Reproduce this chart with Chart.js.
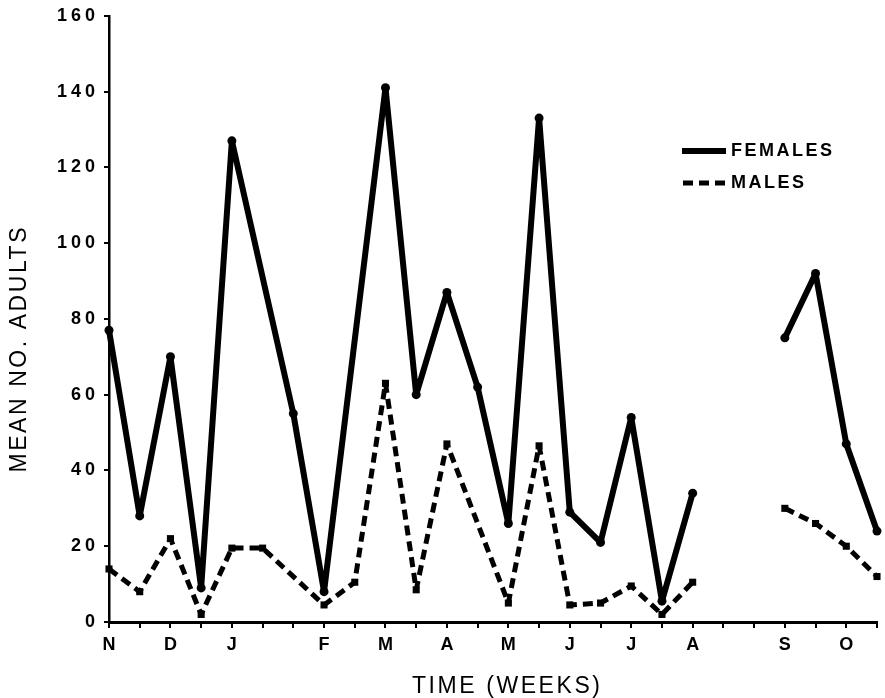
<!DOCTYPE html>
<html>
<head>
<meta charset="utf-8">
<title>Mean no. adults</title>
<script src="https://cdn.jsdelivr.net/npm/chart.js@4.4.0/dist/chart.umd.min.js"></script>
<style>
  html, body { margin: 0; padding: 0; background: #fff; }
  canvas { display: block; }
</style>
</head>
<body>
<canvas id="adultsChart" width="885" height="698"></canvas>
<script>
// Biweekly samples, November through October
const weekLabels = ['N', '', 'D', '', 'J', '', '', 'F', '', 'M', '', 'A', '', 'M', '', 'J', '', 'J', '', 'A', '', '', 'S', '', 'O', ''];
const femaleValues = [77, 28, 70, 9, 127, null, 55, 8, null, 141, 60, 87, 62, 26, 133, 29, 21, 54, 5.5, 34, null, null, 75, 92, 47, 24];
const maleValues = [14, 8, 22, 2, 19.5, 19.5, null, 4.5, 10.5, 63, 8.5, 47, null, 5, 46.5, 4.5, 5, 9.5, 2, 10.5, null, null, 30, 26, 20, 12];
const yTickStep = 20;
const yMax = 160;
const maxBridge = 2; // single missing samples are bridged, the Aug-Sep break is not

const yTitle = 'MEAN NO. ADULTS';
const xTitle = 'TIME (WEEKS)';
const fontFamily = '"Liberation Sans", Arial, sans-serif';

// hide the segment that crosses the long break
const gapSegment = {
    borderColor: ctx => {
        const data = ctx.chart.data.datasets[ctx.datasetIndex].data;
        let j = ctx.p1DataIndex - 1;
        while (j >= 0 && data[j] == null) j--;
        return ctx.p1DataIndex - j > maxBridge ? 'rgba(0,0,0,0)' : undefined;
    }
};

// draw text stretched to a given width (old figure uses wide letter spacing)
function spacedText(ctx, text, cx, cy, width) {
    ctx.letterSpacing = '0px';
    const w = ctx.measureText(text).width;
    ctx.letterSpacing = ((width - w) / (text.length - 1)) + 'px';
    ctx.textAlign = 'left';
    ctx.fillText(text, cx - width / 2, cy);
}

const figureExtras = {
    id: 'figureExtras',
    beforeDraw(chart) {
        chart.ctx.letterSpacing = '4px';
    },
    afterDraw(chart) {
        const ctx = chart.ctx;
        const sets = chart.data.datasets;
        ctx.save();
        ctx.fillStyle = '#000';
        ctx.strokeStyle = '#000';
        ctx.lineCap = 'butt';

        // legend
        ctx.lineWidth = 6;
        ctx.setLineDash([]);
        ctx.beginPath(); ctx.moveTo(682, 151); ctx.lineTo(726, 151); ctx.stroke();
        ctx.lineWidth = 5;
        ctx.setLineDash([10, 6]);
        ctx.beginPath(); ctx.moveTo(683, 183); ctx.lineTo(726, 183); ctx.stroke();
        ctx.setLineDash([]);
        ctx.font = 'bold 18px ' + fontFamily;
        ctx.textBaseline = 'middle';
        ctx.textAlign = 'left';
        ctx.letterSpacing = '2.5px';
        ctx.fillText(sets[0].label, 731, 151);
        ctx.fillText(sets[1].label, 731, 183);

        // axis titles
        ctx.font = '23px ' + fontFamily;
        spacedText(ctx, xTitle, 506, 687, 188);
        ctx.translate(20, 350);
        ctx.rotate(-Math.PI / 2);
        spacedText(ctx, yTitle, 0, 0, 245);
        ctx.restore();
    }
};

new Chart(document.getElementById('adultsChart'), {
    type: 'line',
    data: {
        labels: weekLabels,
        datasets: [{
            label: 'FEMALES',
            data: femaleValues,
            borderColor: '#000',
            backgroundColor: '#000',
            borderWidth: 6,
            borderJoinStyle: 'round',
            pointStyle: 'circle',
            pointRadius: 4.5,
            pointBorderWidth: 0,
            tension: 0,
            spanGaps: true,
            segment: gapSegment,
            clip: false
        }, {
            label: 'MALES',
            data: maleValues,
            borderColor: '#000',
            backgroundColor: '#000',
            borderWidth: 5,
            borderDash: [10, 6],
            borderJoinStyle: 'round',
            pointStyle: 'rect',
            pointRadius: 5,
            pointBorderWidth: 0,
            tension: 0,
            spanGaps: true,
            segment: gapSegment,
            clip: false
        }]
    },
    options: {
        responsive: false,
        animation: false,
        devicePixelRatio: 1,
        layout: { padding: { top: 14, right: 8, bottom: 0, left: 0 } },
        plugins: {
            legend: { display: false },
            tooltip: { enabled: false }
        },
        scales: {
            x: {
                type: 'category',
                offset: false,
                afterFit(scale) { scale.height = 76; },
                border: { display: true, color: '#000', width: 3 },
                grid: {
                    drawOnChartArea: false,
                    drawTicks: true,
                    tickLength: 6,
                    color: '#000',
                    lineWidth: 2
                },
                ticks: {
                    autoSkip: false,
                    maxRotation: 0,
                    padding: 6,
                    labelOffset: 2,
                    color: '#000',
                    font: { family: fontFamily, size: 18, weight: 'bold' }
                }
            },
            y: {
                min: 0,
                max: yMax,
                afterFit(scale) { scale.width = 109; },
                border: { display: true, color: '#000', width: 2.5 },
                grid: {
                    drawOnChartArea: false,
                    drawTicks: true,
                    tickLength: 5,
                    color: '#000',
                    lineWidth: 2
                },
                ticks: {
                    stepSize: yTickStep,
                    padding: 5,
                    color: '#000',
                    font: { family: fontFamily, size: 18, weight: 'bold' }
                }
            }
        }
    },
    plugins: [figureExtras]
});
</script>
</body>
</html>
